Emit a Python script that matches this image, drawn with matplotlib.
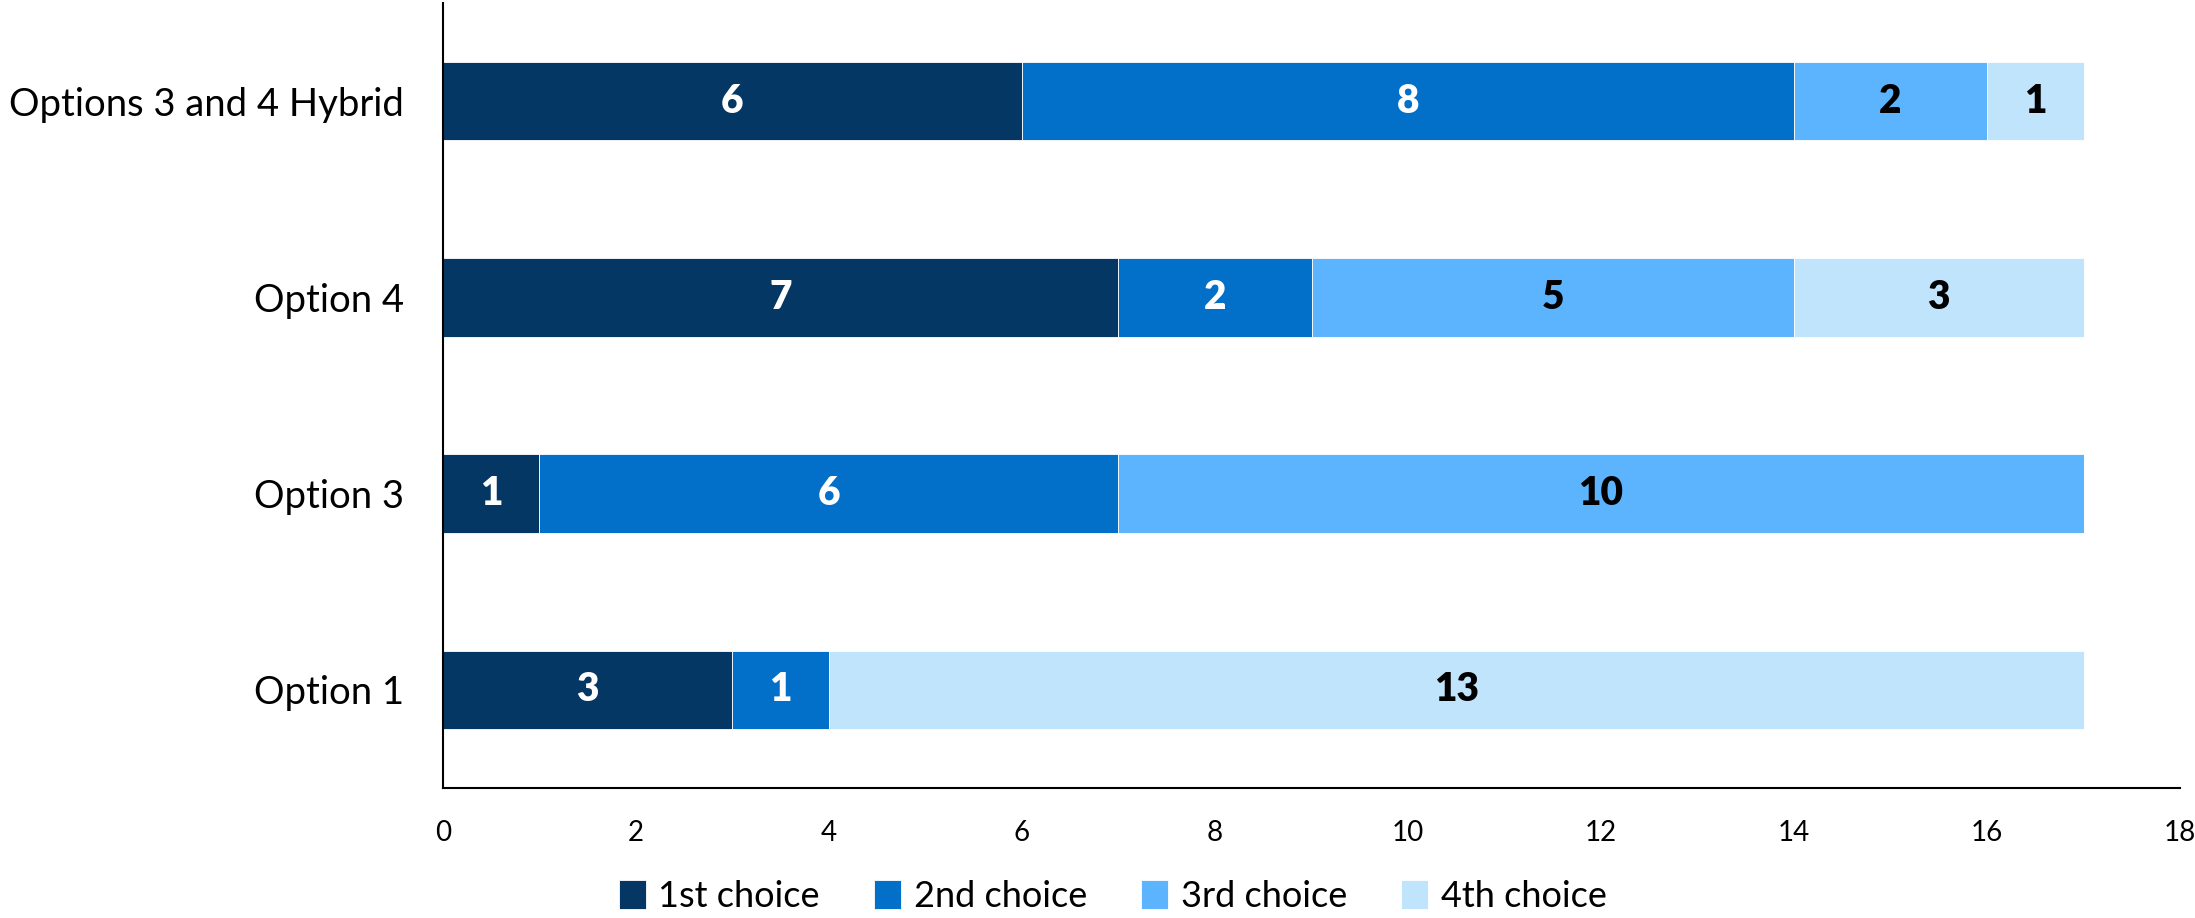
import matplotlib
matplotlib.use("Agg")
import matplotlib.pyplot as plt
import numpy as np

plt.rcParams['font.family'] = ['Lato', 'DejaVu Sans']

# Data (bottom to top, as drawn)
categories = ["Option 1", "Option 3", "Option 4", "Options 3 and 4 Hybrid"]
series_names = ["1st choice", "2nd choice", "3rd choice", "4th choice"]
first_choice = [3, 1, 7, 6]
second_choice = [1, 6, 2, 8]
third_choice = [0, 10, 5, 2]
fourth_choice = [13, 0, 3, 1]
x_ticks = [0, 2, 4, 6, 8, 10, 12, 14, 16, 18]

colours = ["#043764", "#0270C9", "#5CB4FE", "#C1E4FD"]
label_colours = ["white", "white", "black", "black"]

fig = plt.figure(figsize=(21.95, 9.18), dpi=100)
ax = fig.add_axes([0.2018, 0.1416, 0.9932 - 0.2018, 0.9967 - 0.1416])

y = np.arange(len(categories))
left = np.zeros(len(categories))
for name, vals, col, lcol in zip(series_names,
                                 [first_choice, second_choice, third_choice, fourth_choice],
                                 colours, label_colours):
    vals = np.array(vals, dtype=float)
    bars = ax.barh(y, vals, left=left, height=0.40, color=col, label=name,
                   edgecolor="white", linewidth=0.6)
    # value labels (skip empty segments)
    labels = [f"{int(v)}" if v > 0 else "" for v in vals]
    ax.bar_label(bars, labels=labels, label_type="center", color=lcol,
                 fontsize=28, fontweight="heavy")
    left += vals

ax.set_xlim(0, 18)
ax.set_ylim(-0.5, 3.5)
ax.set_xticks(x_ticks)
ax.set_yticks(y)
ax.set_yticklabels(categories, fontsize=27.5)
ax.tick_params(axis="x", length=0, pad=23, labelsize=20)
ax.tick_params(axis="y", length=0, pad=28)

for side in ["top", "right"]:
    ax.spines[side].set_visible(False)
for side in ["left", "bottom"]:
    ax.spines[side].set_linewidth(1.5)
    ax.spines[side].set_color("black")

fig.legend(loc="lower center", bbox_to_anchor=(0.507, -0.022), ncol=4,
           frameon=False, fontsize=26, handlelength=0.75, handleheight=0.85,
           handletextpad=0.35, columnspacing=1.5, borderpad=0.2)

fig.savefig("out.png", dpi=100)
